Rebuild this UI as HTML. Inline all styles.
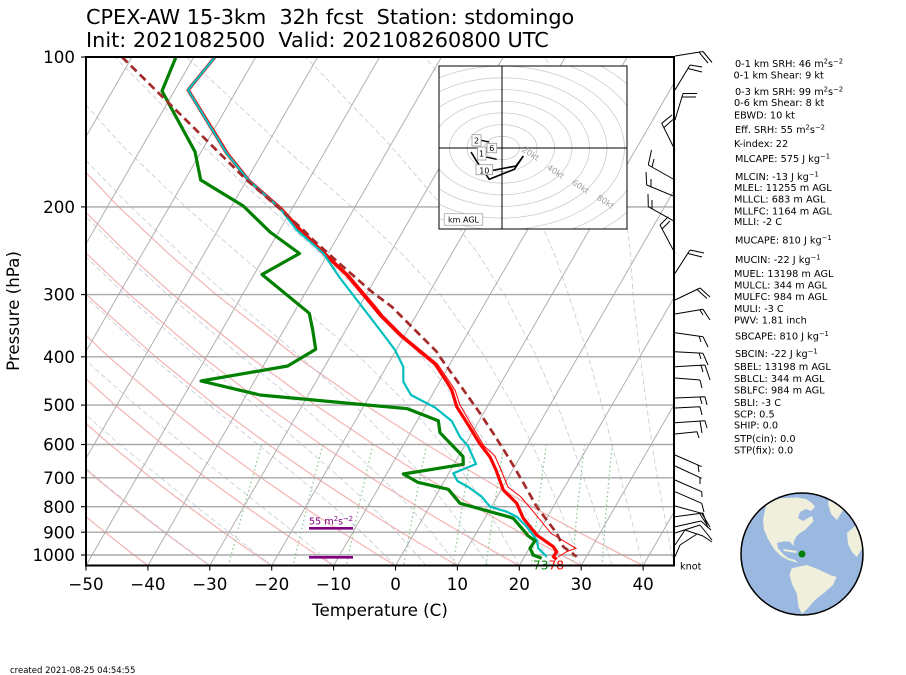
<!DOCTYPE html>
<html><head><meta charset="utf-8"><style>
html,body{margin:0;padding:0;background:#fff;}
svg{display:block;font-family:"DejaVu Sans","Liberation Sans",sans-serif;}
.pre{white-space:pre;}
</style></head><body>
<svg width="906" height="675" viewBox="0 0 906 675" xmlns="http://www.w3.org/2000/svg">
<defs>
<clipPath id="ax"><rect x="86" y="57" width="588" height="508.5"/></clipPath>
<clipPath id="hodo"><rect x="439" y="66" width="188" height="163"/></clipPath>
<clipPath id="globe"><circle cx="802" cy="554" r="61"/></clipPath>
</defs>
<rect width="906" height="675" fill="#fff"/>

<!-- Title -->
<text class="pre" xml:space="preserve" x="86" y="24" font-size="20.8" fill="#000">CPEX-AW 15-3km  32h fcst  Station: stdomingo</text>
<text class="pre" xml:space="preserve" x="86" y="47" font-size="20.8" fill="#000">Init: 2021082500  Valid: 202108260800 UTC</text>

<g clip-path="url(#ax)">
  <!-- dry adiabats -->
  <g stroke="#f5b8b8" stroke-width="1.3" fill="none">
    <path d="M147.9,565.6 L134,555 L105,532.2 L74,506.7"/>
    <path d="M209.8,565.6 L195,555 L164.2,532.2 L131.2,506.7 L95.8,477.9 L57.3,444.5"/>
    <path d="M271.7,565.6 L256.1,555 L223.4,532.2 L188.5,506.7 L150.9,477.9 L110,444.5 L65,405.1"/>
    <path d="M333.6,565.6 L317.1,555 L282.6,532.2 L245.8,506.7 L206,477.9 L162.8,444.5 L115.1,405.1 L61.6,356.8"/>
    <path d="M395.5,565.6 L378.1,555 L341.9,532.2 L303,506.7 L261.2,477.9 L215.5,444.5 L165.2,405.1 L108.5,356.8 L43.2,294.6"/>
    <path d="M457.4,565.6 L439.2,555 L401.1,532.2 L360.3,506.7 L316.3,477.9 L268.3,444.5 L215.2,405.1 L155.5,356.8 L86.4,294.6 L47.1,255.2"/>
    <path d="M519.3,565.6 L500.2,555 L460.3,532.2 L417.6,506.7 L371.4,477.9 L321,444.5 L265.3,405.1 L202.5,356.8 L129.7,294.6 L88.2,255.2 L41.6,206.9"/>
    <path d="M581.1,565.6 L561.3,555 L519.5,532.2 L474.8,506.7 L426.5,477.9 L373.8,444.5 L315.4,405.1 L249.5,356.8 L173,294.6 L129.2,255.2 L80.2,206.9"/>
    <path d="M643,565.6 L622.3,555 L578.8,532.2 L532.1,506.7 L481.7,477.9 L426.5,444.5 L365.4,405.1 L296.5,356.8 L216.2,294.6 L170.3,255.2 L118.7,206.9 L59.4,144.7"/>
  </g>
  <!-- moist adiabats -->
  <g stroke="#c2cbd6" stroke-width="0.8" fill="none" stroke-dasharray="5,3">
    <path d="M209.8,565.6 L165,532.2 L132.5,506.7 L97,477.9 L58.5,444.5"/>
    <path d="M271.7,565.6 L229,532.2 L196.4,506.7 L160.8,477.9 L120,444.5 L74.4,405.1"/>
    <path d="M333.6,565.6 L294,532.2 L261.7,506.7 L225.5,477.9 L183.7,444.5 L135.9,405.1 L81.7,356.8"/>
    <path d="M395.5,565.6 L361.5,532.2 L333.5,506.7 L298.8,477.9 L258,444.5 L209.2,405.1 L151.1,356.8 L83,294.6"/>
    <path d="M426.4,565.6 L396.5,532.2 L371.6,506.7 L340.3,477.9 L302,444.5 L254.9,405.1 L196.3,356.8 L125.3,294.6 L84.3,255.2"/>
    <path d="M457.4,565.6 L431.4,532.2 L409.6,506.7 L381.7,477.9 L345.9,444.5 L300.6,405.1 L241.5,356.8 L167.5,294.6 L124.7,255.2 L76,206.9"/>
    <path d="M488.3,565.6 L466.1,532.2 L447.7,506.7 L424.1,477.9 L394.2,444.5 L354.4,405.1 L300.4,356.8 L227.3,294.6 L182.6,255.2 L130.8,206.9 L70.7,144.7"/>
    <path d="M519.3,565.6 L500.8,532.2 L485.7,506.7 L466.5,477.9 L442.5,444.5 L408.3,405.1 L359.4,356.8 L287,294.6 L240.4,255.2 L185.7,206.9 L121.3,144.7 L43.5,57"/>
    <path d="M550.2,565.6 L534.8,532.2 L522.3,506.7 L506.8,477.9 L487.3,444.5 L460.6,405.1 L422.2,356.8 L363.4,294.6 L321.8,255.2 L268.8,206.9 L201,144.7 L115,57"/>
    <path d="M581.1,565.6 L568.8,532.2 L558.8,506.7 L547,477.9 L532.2,444.5 L512.9,405.1 L485,356.8 L439.9,294.6 L403.2,255.2 L351.9,206.9 L280.7,144.7 L186.5,57"/>
    <path d="M612.1,565.6 L601.7,532.2 L593.4,506.7 L583.8,477.9 L572.1,444.5 L557.4,405.1 L536.7,356.8 L504.2,294.6 L479,255.2 L442.8,206.9 L389.7,144.7 L305.7,57"/>
    <path d="M643,565.6 L634.5,532.2 L628.1,506.7 L620.6,477.9 L612,444.5 L602,405.1 L588.4,356.8 L568.6,294.6 L554.9,255.2 L533.8,206.9 L498.6,144.7 L424.8,57"/>
    <path d="M674,565.6 L667.3,532.2 L662.8,506.7 L657.5,477.9 L652,444.5 L646.6,405.1 L640.1,356.8 L633,294.6 L630.7,255.2 L624.8,206.9 L607.5,144.7 L544,57"/>
  </g>
  <!-- mixing ratio lines -->
  <g stroke="#8cc48c" stroke-width="1.2" fill="none" stroke-dasharray="1.5,2.8">
    <path d="M261.5,444.5 L244.2,506.7 L228.4,565.6"/>
    <path d="M322.7,444.5 L307.1,506.7 L293,565.6"/>
    <path d="M372.8,444.5 L358.8,506.7 L346.3,565.6"/>
    <path d="M426.6,444.5 L414.3,506.7 L403.5,565.6"/>
    <path d="M472.9,444.5 L462.2,506.7 L452.9,565.6"/>
    <path d="M503.9,444.5 L494.2,506.7 L485.9,565.6"/>
    <path d="M546.3,444.5 L538.1,506.7 L531.3,565.6"/>
    <path d="M584.4,444.5 L577.6,506.7 L572.1,565.6"/>
    <path d="M612.2,444.5 L606.4,506.7 L602,565.6"/>
  </g>
  <!-- isotherms -->
  <path stroke="#b0b0b0" stroke-width="1" fill="none" d="M-161.6,565.6 L132,57 M-99.7,565.6 L193.9,57 M-37.8,565.6 L255.8,57 M24.1,565.6 L317.7,57 M86,565.6 L379.6,57 M147.9,565.6 L441.5,57 M209.8,565.6 L503.4,57 M271.7,565.6 L565.3,57 M333.6,565.6 L627.2,57 M395.5,565.6 L689.1,57 M457.4,565.6 L751,57 M519.3,565.6 L812.9,57 M581.2,565.6 L874.8,57 M643.1,565.6 L936.7,57"/>
  <g stroke="#a8a8a8" stroke-width="1.4">
    <line x1="86" x2="674" y1="206.9" y2="206.9"/>
    <line x1="86" x2="674" y1="294.6" y2="294.6"/>
    <line x1="86" x2="674" y1="356.8" y2="356.8"/>
    <line x1="86" x2="674" y1="405.1" y2="405.1"/>
    <line x1="86" x2="674" y1="444.5" y2="444.5"/>
    <line x1="86" x2="674" y1="477.8" y2="477.8"/>
    <line x1="86" x2="674" y1="506.7" y2="506.7"/>
    <line x1="86" x2="674" y1="532.2" y2="532.2"/>
    <line x1="86" x2="674" y1="555" y2="555"/>
  </g>

  <!-- Temperature -->
  <path fill="none" stroke="#ff0000" stroke-width="3.2" stroke-linejoin="round" d="M215,57 L188,90 L226.7,153.3 L248.3,180 L280,208.3 L300,230 L321.7,251.7 L346.7,275 L373.3,306.7 L380,315 L400,335 L435,364 L446.7,381.7 L451.7,390 L456.7,406.7 L468.3,425 L480,444 L490,457 L496,470 L503.3,490 L516.7,503.3 L523.3,518.3 L536.7,535 L553.3,546.7 L556.7,551.7 L553.3,556.7 L556.7,559.3"/>
  <!-- Virtual temperature -->
  <path fill="none" stroke="#ff0000" stroke-width="1" d="M216,57 L189.5,90 L228.5,153 L250,180 L282,208 L302,230 L324,251.5 L349,275 L376,306.7 L382.5,315 L402.5,335 L437.5,364 L449.5,381.7 L455,390 L460,405 L471,424 L484,446 L495,456 L501,470 L508,487 L521,497 L537.5,516.7 L551,533.3 L562,540 L576,548.3 L567,551.5 L558,557"/>
  <!-- Wet bulb -->
  <path fill="none" stroke="#00bfbf" stroke-width="2.2" stroke-linejoin="round" d="M215,57 L188,90 L226.7,153.3 L248.3,180 L280,208.3 L296.7,230 L323.3,253.3 L340,278 L363.3,308.3 L380,330 L395,350 L403.3,366.7 L403.3,381.7 L411,395 L435,407.5 L451.7,421 L460,437 L468,446 L476,464 L453.3,473.3 L457.5,481 L469,487.5 L481.7,496.7 L490,506.7 L506.7,511.7 L516.7,516.7 L526.7,526.7 L531.7,533.3 L536.7,540 L538.3,548.3 L546.7,556.7"/>
  <!-- Dewpoint -->
  <path fill="none" stroke="#008000" stroke-width="3.2" stroke-linejoin="round" d="M176,57 L162,91 L195,151.7 L200.7,180 L243.3,206 L270,232 L299.5,253.5 L262,274.5 L309.3,313.3 L312.7,330 L315.7,349.3 L287.7,366 L201,381 L260,395 L407.5,408.7 L438.3,420.7 L440,432.7 L463,456.5 L463.3,464.3 L403.3,474 L417.7,482.3 L448.3,489.3 L460,503.3 L508.3,516.7 L513.3,518.3 L523.3,530 L528.3,536 L535,540.7 L530,548.3 L533.3,555 L541.7,558.3"/>
  <!-- Parcel -->
  <path fill="none" stroke="#a52a2a" stroke-width="2.7" stroke-dasharray="8,4.5" d="M122,57 L185,119 L246.7,180 L280,209 L303.3,230 L313.3,240 L340,264 L371.7,291.7 L391.7,306.7 L400,315 L420,335 L436.7,351.7 L440,357 L460,385 L480,413.3 L495,436 L510,460 L524,484 L536.7,506.7 L556.7,533.3 L563.3,546.7 L576.7,556.7"/>

  <!-- Effective inflow layer -->
  <g stroke="#800080" stroke-width="2.6">
    <line x1="309" x2="353" y1="528.3" y2="528.3"/>
    <line x1="309" x2="353" y1="557.3" y2="557.3"/>
  </g>
  <text x="331" y="524.5" font-size="9.7" fill="#800080" text-anchor="middle">55 m<tspan dy="-3.5" font-size="6.8">2</tspan><tspan dy="3.5">s</tspan><tspan dy="-3.5" font-size="6.8">−2</tspan></text>
</g>

<text x="533" y="569.5" font-size="12.2" fill="#008000">73</text>
<text x="548.5" y="569.5" font-size="12.2" fill="#ff0000">78</text>

<!-- Hodograph inset -->
<rect x="439" y="66" width="188" height="163" fill="#fff" stroke="none"/>
<g clip-path="url(#hodo)">
  <g fill="none" stroke="#cccccc" stroke-width="0.8">
    <ellipse cx="502" cy="148" rx="17.5" ry="11.7"/>
    <ellipse cx="502" cy="148" rx="35" ry="23.4"/>
    <ellipse cx="502" cy="148" rx="52.5" ry="35.1"/>
    <ellipse cx="502" cy="148" rx="70" ry="46.8"/>
    <ellipse cx="502" cy="148" rx="87.5" ry="58.5"/>
    <ellipse cx="502" cy="148" rx="105" ry="70.2"/>
    <ellipse cx="502" cy="148" rx="122.5" ry="81.9"/>
    <ellipse cx="502" cy="148" rx="140" ry="93.6"/>
    <ellipse cx="502" cy="148" rx="157.5" ry="105.3"/>
    <ellipse cx="502" cy="148" rx="175" ry="117"/>
    <ellipse cx="502" cy="148" rx="192.5" ry="128.7"/>
    <ellipse cx="502" cy="148" rx="210" ry="140.4"/>
    <ellipse cx="502" cy="148" rx="227.5" ry="152.1"/>
    <ellipse cx="502" cy="148" rx="245" ry="163.8"/>
  </g>
  <line x1="502" x2="502" y1="66" y2="229" stroke="#000" stroke-width="1"/>
  <line x1="439" x2="627" y1="148" y2="148" stroke="#000" stroke-width="1"/>
  <g font-size="8.3" fill="#a0a0a0" text-anchor="middle">
    <text transform="translate(529,156) rotate(33)">20kt</text>
    <text transform="translate(554,174) rotate(33)">40kt</text>
    <text transform="translate(579,189) rotate(33)">60kt</text>
    <text transform="translate(604,204) rotate(33)">80kt</text>
  </g>
  <path fill="none" stroke="#000" stroke-width="1.6" d="M471,152 L476.7,161.3 L489.3,179.3 L514.3,169.3 L523.3,156 L516,166 L492,170.5"/>
  <path fill="none" stroke="#000" stroke-width="1.4" d="M481,140.3 L489.3,142 M486,157 L496.7,159.3 M480,150 L487,152"/>
  <g font-size="8" fill="#000" text-anchor="middle">
    <rect x="472" y="134.7" width="9" height="11.3" fill="#fff" stroke="#999" stroke-width="0.8"/>
    <text x="476.5" y="143.5">2</text>
    <rect x="487" y="143.3" width="9.7" height="9.4" fill="#fff" stroke="#999" stroke-width="0.8"/>
    <text x="491.8" y="151">6</text>
    <rect x="477.5" y="147" width="8.5" height="13" fill="#fff" stroke="#999" stroke-width="0.8"/>
    <text x="481.5" y="156.5">1</text>
    <rect x="476" y="164.7" width="16.7" height="10" fill="#fff" stroke="#999" stroke-width="0.8"/>
    <text x="484.3" y="173.3">10</text>
    <rect x="444.3" y="213.7" width="38.4" height="11.6" fill="#fff" stroke="#aaa" stroke-width="0.8"/>
    <text x="463.5" y="222.5">km AGL</text>
  </g>
</g>
<rect x="439" y="66" width="188" height="163" fill="none" stroke="#000" stroke-width="1"/>

<!-- Axes frame -->
<rect x="86" y="57" width="588" height="508.5" fill="none" stroke="#000" stroke-width="2"/>
<g stroke="#000" stroke-width="1.1">
  <line x1="81" x2="86" y1="57" y2="57"/><line x1="81" x2="86" y1="206.9" y2="206.9"/>
  <line x1="81" x2="86" y1="294.6" y2="294.6"/><line x1="81" x2="86" y1="356.8" y2="356.8"/>
  <line x1="81" x2="86" y1="405.1" y2="405.1"/><line x1="81" x2="86" y1="444.5" y2="444.5"/>
  <line x1="81" x2="86" y1="477.8" y2="477.8"/><line x1="81" x2="86" y1="506.7" y2="506.7"/>
  <line x1="81" x2="86" y1="532.2" y2="532.2"/><line x1="81" x2="86" y1="555" y2="555"/>
  <line x1="86" x2="86" y1="565.5" y2="570.5"/><line x1="147.9" x2="147.9" y1="565.5" y2="570.5"/>
  <line x1="209.8" x2="209.8" y1="565.5" y2="570.5"/><line x1="271.7" x2="271.7" y1="565.5" y2="570.5"/>
  <line x1="333.6" x2="333.6" y1="565.5" y2="570.5"/><line x1="395.5" x2="395.5" y1="565.5" y2="570.5"/>
  <line x1="457.4" x2="457.4" y1="565.5" y2="570.5"/><line x1="519.3" x2="519.3" y1="565.5" y2="570.5"/>
  <line x1="581.2" x2="581.2" y1="565.5" y2="570.5"/><line x1="643.1" x2="643.1" y1="565.5" y2="570.5"/>
</g>
<g font-size="16.7" fill="#000" text-anchor="end">
  <text x="75" y="63.1">100</text><text x="75" y="213">200</text><text x="75" y="300.7">300</text>
  <text x="75" y="362.9">400</text><text x="75" y="411.2">500</text><text x="75" y="450.6">600</text>
  <text x="75" y="483.9">700</text><text x="75" y="512.8">800</text><text x="75" y="538.3">900</text>
  <text x="75" y="561.1">1000</text>
</g>
<g font-size="16.7" fill="#000" text-anchor="middle">
  <text x="86" y="590">−50</text><text x="147.9" y="590">−40</text><text x="209.8" y="590">−30</text>
  <text x="271.7" y="590">−20</text><text x="333.6" y="590">−10</text><text x="395.5" y="590">0</text>
  <text x="457.4" y="590">10</text><text x="519.3" y="590">20</text><text x="581.2" y="590">30</text>
  <text x="643.1" y="590">40</text>
</g>
<text x="380" y="616" font-size="16.7" text-anchor="middle" fill="#000">Temperature (C)</text>
<text transform="translate(19,311) rotate(-90)" font-size="16.7" text-anchor="middle" fill="#000">Pressure (hPa)</text>

<!-- Wind barbs -->
<g stroke="#000" stroke-width="1" fill="none">
<path d="M675,56 L703,51.5 M703,51.5 L712,62.5 M699,52.2 L708,63"/>
<path d="M675,90 L690,65 M690,65 L702,67 M688,68.5 L702,72"/>
<path d="M675,120 L683,93.5 M683,93.5 L697,93.5 M682,97 L696,97"/>
<path d="M675,150 L661.7,123.3 M661.7,123.3 L672,115 M664,127.5 L673,119.5"/>
<path d="M675,180 L648.3,165 M648.3,165 L651.5,150 M652,167 L654,159"/>
<path d="M675,196.7 L646.7,185 M646.7,185 L646,172 M651,187 L651,179"/>
<path d="M675,221.7 L648.3,206.7 M648.3,206.7 L648,194 M652,209 L652,200"/>
<path d="M675,253.3 L660,225 M660,225 L668.3,216.7 M662,229 L670,221"/>
<path d="M675,273.3 L690,250 M690,250 L704,253 M688,253.5 L702,257"/>
<path d="M675,300 L700,288 M700,288 L710,297 M697,289.5 L707,298.5"/>
<path d="M675,314 L703,309.3 M703,309.3 L710,320 M700,310 L703,315"/>
<path d="M675,332.7 L703,336.7 M703,336.7 L708,347 M699,336 L701,342"/>
<path d="M675,351.7 L703,353.3 M703,353.3 L708,365 M699,353 L701,359"/>
<path d="M675,366.7 L705,365 M705,365 L710,380 M701,365.3 L703,372"/>
<path d="M675,378 L700,380 M700,380 L702,388"/>
<path d="M675,398 L705,396.7 M705,396.7 L707,405 M700,397 L702,404"/>
<path d="M675,408 L700,406.7 M700,406.7 L702,415"/>
<path d="M675,422.7 L705,420.7 M705,420.7 L707,428 M700,421 L702,433"/>
<path d="M675,434 L697,431.7 M697,431.7 L699,438"/>
<path d="M675,455 L701.7,466.7 M698,465 L699,472"/>
<path d="M675,466 L701.7,478.3 M700,477.5 L700,484"/>
<path d="M675,480 L701.7,491.7 M701.7,491.7 L702,497"/>
<path d="M675,491.7 L701.7,503.3 M701.7,503.3 L704,512"/>
<path d="M675,506 L701.7,513.3 M701.7,513.3 L710,527 M699,512.5 L707,525"/>
<path d="M675,516.7 L703,513 M703,513 L708,528"/>
<path d="M675,526.7 L701,521 M701,521 L711,530"/>
<path d="M675,533 L700,525 M700,525 L712,540"/>
<path d="M675,545 L685,530 M685,530 L703,536 M703,536 L712,542"/>
<path d="M675,556.7 L680,545 M680,545 L697,534"/>
</g>
<text x="680" y="569.5" font-size="9.7" fill="#000">knot</text>

<!-- Indices -->
<g font-size="9.72" fill="#000">
<text x="735" y="66.8">0-1 km SRH: 46 m<tspan dy="-3.5" font-size="6.8">2</tspan><tspan dy="3.5">s</tspan><tspan dy="-3.5" font-size="6.8">−2</tspan></text>
<text x="733.5" y="78.5">0-1 km Shear: 9 kt</text>
<text x="735" y="95.2">0-3 km SRH: 99 m<tspan dy="-3.5" font-size="6.8">2</tspan><tspan dy="3.5">s</tspan><tspan dy="-3.5" font-size="6.8">−2</tspan></text>
<text x="734" y="105.8">0-6 km Shear: 8 kt</text>
<text x="734" y="118.5">EBWD: 10 kt</text>
<text x="735" y="132.8">Eff. SRH: 55 m<tspan dy="-3.5" font-size="6.8">2</tspan><tspan dy="3.5">s</tspan><tspan dy="-3.5" font-size="6.8">−2</tspan></text>
<text x="734" y="146.8">K-index: 22</text>
<text x="735" y="161.8">MLCAPE: 575 J kg<tspan dy="-3.5" font-size="6.8">−1</tspan></text>
<text x="735" y="180.2">MLCIN: -13 J kg<tspan dy="-3.5" font-size="6.8">−1</tspan></text>
<text x="734" y="191.2">MLEL: 11255 m AGL</text>
<text x="734" y="202.5">MLLCL: 683 m AGL</text>
<text x="734" y="214.5">MLLFC: 1164 m AGL</text>
<text x="734" y="225.2">MLLI: -2 C</text>
<text x="735" y="243.5">MUCAPE: 810 J kg<tspan dy="-3.5" font-size="6.8">−1</tspan></text>
<text x="735" y="262.8">MUCIN: -22 J kg<tspan dy="-3.5" font-size="6.8">−1</tspan></text>
<text x="734" y="276.8">MUEL: 13198 m AGL</text>
<text x="734" y="288.5">MULCL: 344 m AGL</text>
<text x="734" y="300.2">MULFC: 984 m AGL</text>
<text x="734" y="311.8">MULI: -3 C</text>
<text x="734" y="323.5">PWV: 1.81 inch</text>
<text x="735" y="339.5">SBCAPE: 810 J kg<tspan dy="-3.5" font-size="6.8">−1</tspan></text>
<text x="735" y="356.8">SBCIN: -22 J kg<tspan dy="-3.5" font-size="6.8">−1</tspan></text>
<text x="734" y="370.2">SBEL: 13198 m AGL</text>
<text x="734" y="381.8">SBLCL: 344 m AGL</text>
<text x="734" y="393.5">SBLFC: 984 m AGL</text>
<text x="734" y="406.2">SBLI: -3 C</text>
<text x="734" y="417.5">SCP: 0.5</text>
<text x="734" y="428.5">SHIP: 0.0</text>
<text x="734" y="441.8">STP(cin): 0.0</text>
<text x="734" y="453.5">STP(fix): 0.0</text>
</g>

<!-- Globe -->
<circle cx="802" cy="554" r="61" fill="#9bb8e1"/>
<g clip-path="url(#globe)" fill="#efefdc" stroke="none">
  <path d="M766.7,503.3 L780,498.3 L796.7,497.5 L806,499 L812,503 L815,507 L811,511 L806,509 L800,512 L798,518 L803,521 L808,518 L812,516 L813.5,521 L809,526 L805,530 L800,533 L796,537 L794,541 L793.5,546 L791,543 L789,541.5 L783,541.5 L777,543 L778,548 L782,553 L788,558 L795,560 L798.5,563.5 L795,562 L788,560 L781,556 L774,549 L768,539 L764,530 L763,520 L765,510 Z"/>
  <path d="M791.7,568.3 L806.7,565 L820,570 L830,575 L836.7,577 L833,585 L824,593 L815,600 L808,608 L802,614 L798.5,607 L797,594 L792,584 L789.5,575 Z"/>
  <path d="M829,499 L845,500 L843,510 L837,520 L831,514 L828,504 Z"/>
  <path d="M847,533 L855,526 L862,532 L863.5,546 L857,557 L852,552 L848,544 Z"/>
  <path d="M783,549 L797,551 L796,553 L784,551 Z"/>
</g>
<circle cx="802" cy="554" r="61" fill="none" stroke="#000" stroke-width="1.5"/>
<circle cx="802" cy="554" r="3.5" fill="#008000"/>

<text x="10" y="673" font-size="8.5" fill="#000">created 2021-08-25 04:54:55</text>
</svg>
</body></html>
